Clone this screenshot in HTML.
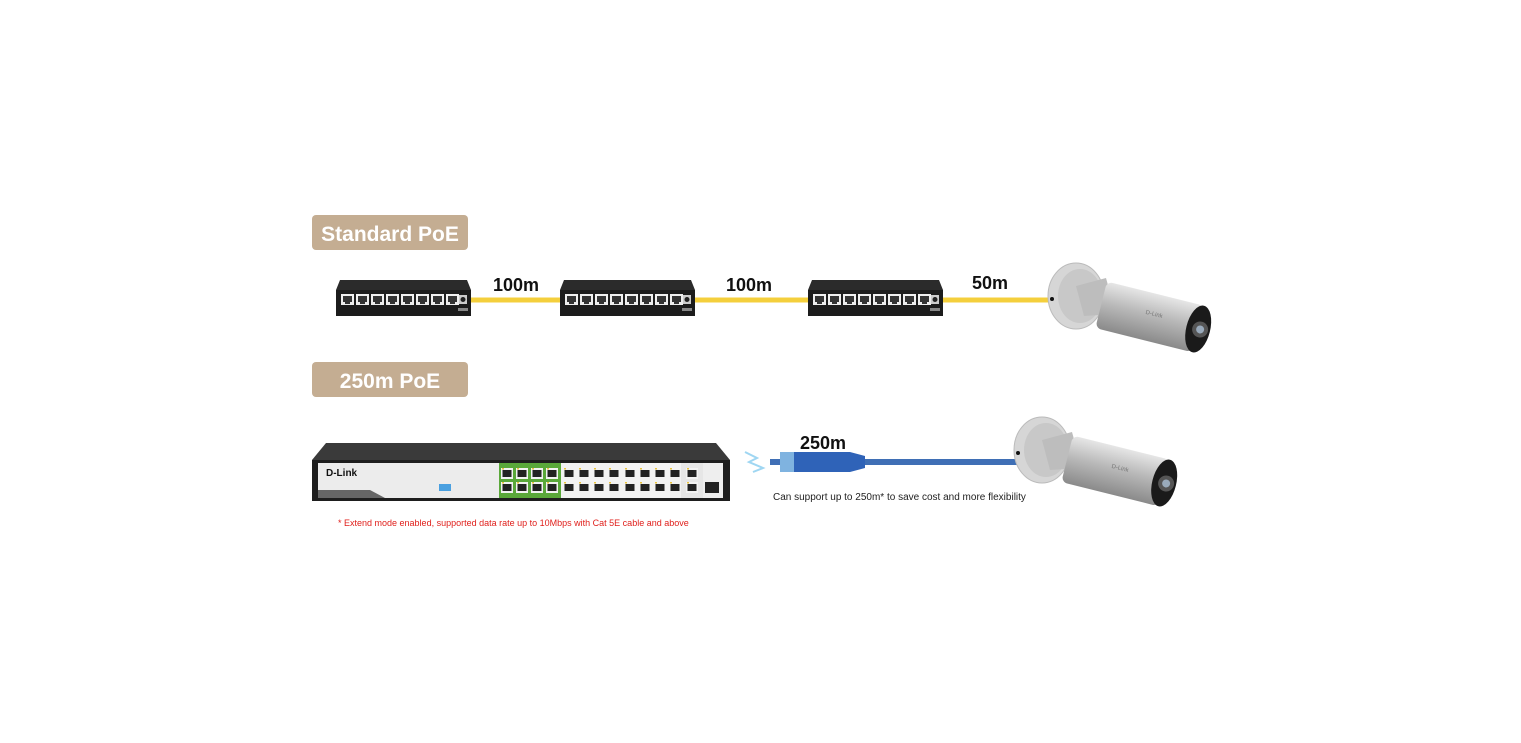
<!DOCTYPE html>
<html><head><meta charset="utf-8"><style>
html,body{margin:0;padding:0;background:#fff;width:1521px;height:743px;overflow:hidden}
svg{display:block}
text{font-family:"Liberation Sans",sans-serif}
</style></head><body>
<svg width="1521" height="743" viewBox="0 0 1521 743" xmlns="http://www.w3.org/2000/svg">
<defs>
<g id="port"><rect x="0" y="0" width="13" height="11" fill="#eee"/><rect x="2" y="2" width="9" height="6" fill="#333"/><rect x="4" y="8" width="5" height="2" fill="#333"/></g>
<g id="sw">
<polygon points="4,0 131,0 135,10 0,10" fill="#2b2b2b"/>
<rect x="0" y="10" width="135" height="26" fill="#1c1c1c"/>
<use href="#port" x="5" y="14"/><use href="#port" x="20" y="14"/><use href="#port" x="35" y="14"/><use href="#port" x="50" y="14"/>
<use href="#port" x="65" y="14"/><use href="#port" x="80" y="14"/><use href="#port" x="95" y="14"/><use href="#port" x="110" y="14"/>
<rect x="123" y="15" width="8" height="9" fill="#ccc"/><circle cx="127" cy="19.5" r="2.5" fill="#222"/>
<rect x="122" y="28" width="10" height="3" fill="#888"/>
</g>
<g id="bp"><rect x="0" y="0" width="12" height="11" fill="#f2f2f2"/><rect x="1.5" y="2" width="9" height="7" fill="#222"/><rect x="1" y="0" width="2" height="1.5" fill="#e8c23a"/></g>
<linearGradient id="cam" x1="0" y1="0" x2="0" y2="1"><stop offset="0" stop-color="#e6e6e6"/><stop offset="0.45" stop-color="#b9b9b9"/><stop offset="1" stop-color="#8a8a8a"/></linearGradient>
<g id="camera">
<ellipse cx="30" cy="30" rx="28" ry="33" fill="#d6d6d6" stroke="#bbb"/>
<ellipse cx="34" cy="30" rx="22" ry="27" fill="#c8c8c8"/>
<circle cx="6" cy="33" r="2" fill="#111"/>
<polygon points="30,20 60,12 70,48 38,50" fill="#bdbdbd"/>
<g transform="rotate(14 60 40)">
<rect x="55" y="16" width="100" height="48" rx="6" fill="url(#cam)"/>
<ellipse cx="155" cy="40" rx="12" ry="24" fill="#1a1a1a"/>
<circle cx="157" cy="40" r="8" fill="#555"/><circle cx="157" cy="40" r="4" fill="#9ab"/>
<text x="100" y="38" font-size="6" fill="#777">D-Link</text>
</g>
</g>
</defs>

<!-- labels boxes -->
<rect x="312" y="215" width="156" height="35" rx="4" fill="#c4ad92"/>
<text x="390" y="241" font-size="21" font-weight="bold" fill="#fff" text-anchor="middle">Standard PoE</text>
<rect x="312" y="362" width="156" height="35" rx="4" fill="#c4ad92"/>
<text x="390" y="388" font-size="21" font-weight="bold" fill="#fff" text-anchor="middle">250m PoE</text>

<!-- yellow cables -->
<g stroke="#f4cf3c" stroke-width="5">
<line x1="470" y1="300" x2="562" y2="300"/>
<line x1="694" y1="300" x2="810" y2="300"/>
<line x1="943" y1="300" x2="1050" y2="300"/>
</g>
<use href="#sw" x="336" y="280"/>
<use href="#sw" x="560" y="280"/>
<use href="#sw" x="808" y="280"/>
<text x="516" y="291" font-size="18" font-weight="bold" fill="#111" text-anchor="middle">100m</text>
<text x="749" y="291" font-size="18" font-weight="bold" fill="#111" text-anchor="middle">100m</text>
<text x="990" y="289" font-size="18" font-weight="bold" fill="#111" text-anchor="middle">50m</text>

<use href="#camera" x="1046" y="266"/>

<!-- big switch -->
<polygon points="326,443 716,443 730,460 312,460" fill="#3a3a3a"/>
<rect x="312" y="460" width="418" height="41" fill="#1e1e1e"/>
<rect x="318" y="463" width="182" height="35" fill="#ececec"/>
<polygon points="318,490 370,490 385,498 318,498" fill="#666"/>
<text x="326" y="476" font-size="10" font-weight="bold" fill="#111" font-family="Liberation Serif,serif">D-Link</text>
<rect x="439" y="484" width="12" height="7" fill="#4aa0e0"/>
<rect x="499" y="463" width="62" height="35" fill="#5aa83a"/>
<rect x="561" y="463" width="120" height="35" fill="#f2f2f2"/>
<rect x="681" y="463" width="22" height="35" fill="#e6e6e6"/>
<rect x="703" y="463" width="20" height="35" fill="#eee"/>
<g>
<use href="#bp" x="501" y="468"/><use href="#bp" x="516" y="468"/><use href="#bp" x="531" y="468"/><use href="#bp" x="546" y="468"/>
<use href="#bp" x="563" y="468"/><use href="#bp" x="578" y="468"/><use href="#bp" x="593" y="468"/><use href="#bp" x="608" y="468"/>
<use href="#bp" x="624" y="468"/><use href="#bp" x="639" y="468"/><use href="#bp" x="654" y="468"/><use href="#bp" x="669" y="468"/>
<use href="#bp" x="501" y="482"/><use href="#bp" x="516" y="482"/><use href="#bp" x="531" y="482"/><use href="#bp" x="546" y="482"/>
<use href="#bp" x="563" y="482"/><use href="#bp" x="578" y="482"/><use href="#bp" x="593" y="482"/><use href="#bp" x="608" y="482"/>
<use href="#bp" x="624" y="482"/><use href="#bp" x="639" y="482"/><use href="#bp" x="654" y="482"/><use href="#bp" x="669" y="482"/>
<use href="#bp" x="686" y="468"/><use href="#bp" x="686" y="482"/>
<rect x="705" y="482" width="14" height="11" fill="#222"/>
</g>

<!-- blue cable -->
<path d="M770 462 L1020 462" stroke="#3f6fb5" stroke-width="6"/>
<path d="M745 452 l12 6 -8 4 14 6 -10 4" stroke="#9fd6f2" stroke-width="2" fill="none"/>
<rect x="780" y="452" width="14" height="20" fill="#7fb3e0"/>
<polygon points="794,452 850,452 865,456 865,468 850,472 794,472" fill="#2f63b8"/>
<text x="823" y="449" font-size="18" font-weight="bold" fill="#111" text-anchor="middle">250m</text>
<text x="773" y="500" font-size="10" fill="#222">Can support up to 250m* to save cost and more flexibility</text>

<use href="#camera" x="1012" y="420"/>

<text x="338" y="526" font-size="9" fill="#e0201c">* Extend mode enabled, supported data rate up to 10Mbps with Cat 5E cable and above</text>
</svg>
</body></html>
